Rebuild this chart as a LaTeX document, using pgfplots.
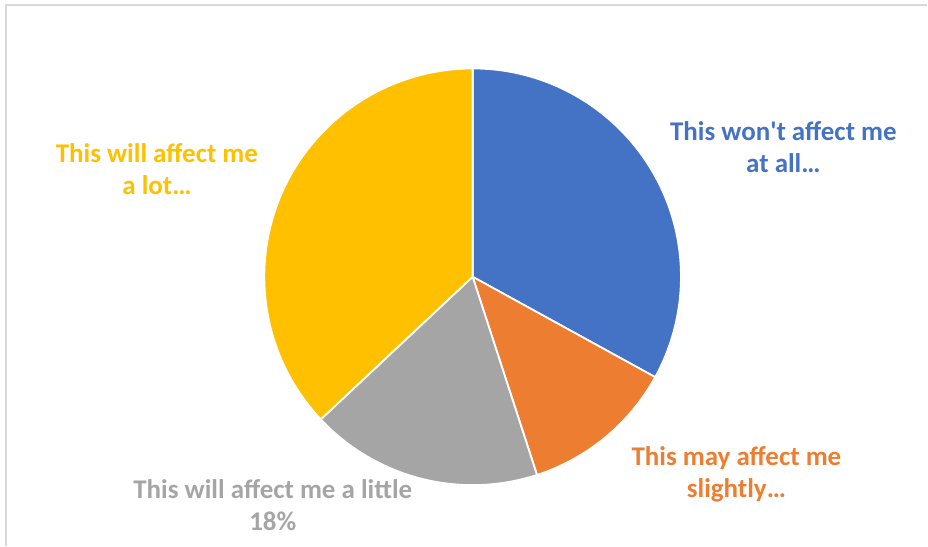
\documentclass[border=0pt]{standalone}
\usepackage{pgfplots}
\pgfplotsset{compat=1.18}
\usepackage{pgfplotstable}
\usepackage{fontspec}
\setmainfont{Carlito}
\definecolor{pieblue}{HTML}{4472C4}
\definecolor{pieorange}{HTML}{ED7D31}
\definecolor{piegray}{HTML}{A5A5A5}
\definecolor{pieyellow}{HTML}{FFC000}
\definecolor{framegray}{HTML}{D9D9D9}
\pgfplotstableread{
value col
33 pieblue
12 pieorange
18 piegray
37 pieyellow
}\piedata
\begin{document}
\begin{tikzpicture}
\begin{axis}[
  width=928pt, height=546pt, scale only axis,
  xmin=0, xmax=928, ymin=0, ymax=546,
  hide axis, clip=false,
]
\addplot[draw=none] coordinates {(0,0) (928,546)};
\draw[framegray, line width=1.5pt] (axis cs:6,0) -- (axis cs:6,541) -- (axis cs:928,541);
\def\cum{90}
\pgfplotsforeachungrouped \i in {0,...,3}{
  \pgfplotstablegetelem{\i}{value}\of\piedata \let\v=\pgfplotsretval
  \pgfplotstablegetelem{\i}{col}\of\piedata \let\c=\pgfplotsretval
  \pgfmathsetmacro{\endang}{\cum - 3.6*\v}
  \edef\temp{\noexpand\filldraw[fill=\c, draw=white, line width=1.8pt, line join=round] (axis cs:473,269) -- ++(\cum:208.5pt) arc[start angle=\cum, end angle=\endang, radius=208.5pt] -- cycle;}
  \temp
  \global\let\cum=\endang
}
\node[align=center, text=pieblue, font=\fontsize{27}{32}\selectfont\bfseries] at (axis cs:784,399) {This won\textquotesingle t affect me\\at all…};
\node[align=center, text=pieorange, font=\fontsize{27}{32}\selectfont\bfseries] at (axis cs:737,71) {This may affect me\\slightly…};
\node[align=center, text=piegray, font=\fontsize{27}{32}\selectfont\bfseries] at (axis cs:273,40) {This will affect me a little\\18\%};
\node[align=center, text=pieyellow, font=\fontsize{27}{32}\selectfont\bfseries] at (axis cs:157,377) {This will affect me\\a lot…};
\end{axis}
\end{tikzpicture}
\end{document}
